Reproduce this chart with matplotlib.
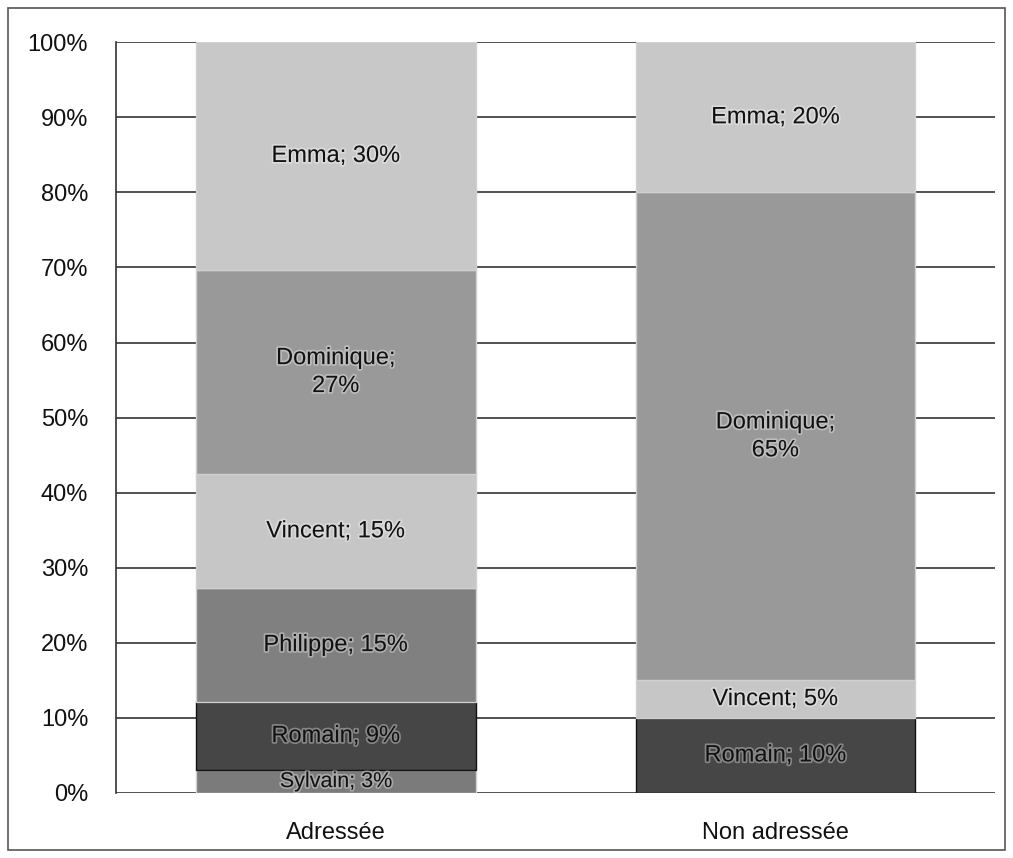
import matplotlib.pyplot as plt
import matplotlib.patheffects as pe
from matplotlib.patches import Rectangle
from matplotlib.ticker import PercentFormatter

# ================= DATA =================

categories = ["Adressée", "Non adressée"]
people = ["Sylvain", "Romain", "Philippe", "Vincent", "Dominique", "Emma"]
# counts per person (bottom to top), shares computed as % of column total
counts_adressee = [1, 3, 5, 5, 9, 10]
counts_non_adressee = [0, 2, 0, 1, 13, 4]
colors = ["#7b7b7b", "#464646", "#808080", "#c6c6c6", "#999999", "#c8c8c8"]
wrap_labels = ["Dominique"]

# ================= PLOT =================

plt.rcParams['font.family'] = ['Liberation Sans', 'DejaVu Sans']

fig = plt.figure(figsize=(10.13, 8.58), dpi=100)
ax = fig.add_axes([0.1145, 0.0758, 0.868, 0.875])

fig.patches.append(Rectangle((8 / 1013, 8 / 858), 997 / 1013, 842 / 858,
                             transform=fig.transFigure, fill=False,
                             edgecolor="#555555", linewidth=1.2))

cols = [counts_adressee, counts_non_adressee]
glow = [pe.withStroke(linewidth=2.5, foreground="white", alpha=0.35)]

for i, col in enumerate(cols):
    total = sum(col)
    bottom = 0
    for name, c, color in zip(people, col, colors):
        if c == 0:
            continue
        share = c / total * 100
        ax.bar(i, share, bottom=bottom, width=0.636, color=color,
               edgecolor="#d0d0d0" if color != "#464646" else "#111111",
               linewidth=1, zorder=3)
        sep = ";\n" if name in wrap_labels else "; "
        label = f"{name}{sep}{round(share)}%"
        fs = 15.5 if name == "Sylvain" else 17
        ax.text(i, bottom + share / 2, label, ha="center", va="center",
                fontsize=fs, color="#111111", zorder=4, path_effects=glow,
                linespacing=1.35)
        bottom += share

ax.set_xlim(-0.5, 1.5)
ax.set_ylim(0, 100)
ax.set_yticks(range(0, 101, 10))
ax.yaxis.set_major_formatter(PercentFormatter(decimals=0))
ax.set_xticks(range(len(categories)))
ax.set_xticklabels(categories)
ax.tick_params(axis="both", length=0, labelsize=17, colors="#111111")
ax.tick_params(axis="y", pad=20)
ax.tick_params(axis="x", pad=21)

ax.grid(axis="y", color="#333333", linewidth=1.2, zorder=0)
ax.set_axisbelow(True)
for s in ["top", "right", "bottom"]:
    ax.spines[s].set_visible(False)
ax.spines["left"].set_color("#333333")
ax.spines["left"].set_linewidth(1.2)

fig.savefig("out.png", dpi=100)
